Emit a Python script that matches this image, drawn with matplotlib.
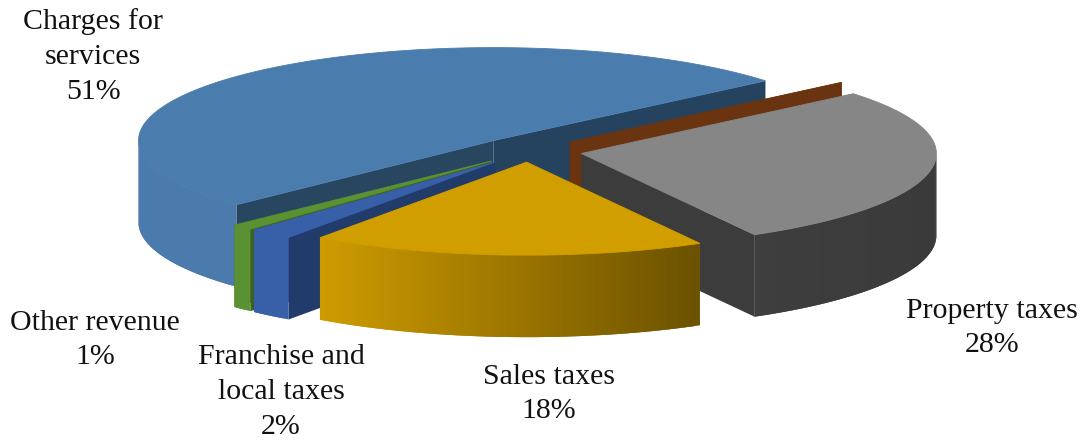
import numpy as np
import matplotlib
matplotlib.use("Agg")
import matplotlib.pyplot as plt
from matplotlib.colors import to_rgb

# revenue shares, clockwise from the start angle
categories = ["", "Property taxes", "Sales taxes", "Franchise and\nlocal taxes", "Other revenue", "Charges for\nservices"]
shares = [0, 28, 18, 2, 1, 51]
top_colors = ["#6b3410", "#868686", "#d19e00", "#3860a8", "#5a9133", "#4a7dae"]
wall_colors = ["#6b3410", "#3c3c3c", "#8a6900", "#213b6b", "#3c6122", "#284660"]
wall_colors_far = ["#6b3410", "#3c3c3c", "#8a6900", "#213b6b", "#3c6122", "#25435f"]
side_left = ["#6b3410", "#3e3e3e", "#cf9c00", "#3860a8", "#5a9133", "#497aab"]
side_right = ["#6b3410", "#3a3a3a", "#6c5200", "#3860a8", "#5a9133", "#4a7bac"]
explode = [0.15, 0.15, 0.12, 0.15, 0.15, 0.15]
label_x = [0, 992, 549, 281, 95, 93]
label_y = [0, 328, 394, 392, 340, 57]

# projection of the pie plane onto the page, in pixels
center_x, center_y = 529, 151
radius_x, radius_y = 355, 93
depth = 82
start_angle = 40

# back slices first so the nearer ones cover them
draw_order = [5, 0, 1, 4, 3, 2]


def project(ang, off_x, off_y, r=1.0):
    a = np.radians(ang)
    return off_x + r * radius_x * np.cos(a), off_y - r * radius_y * np.sin(a)


def mix(c1, c2, t):
    c1, c2 = np.array(to_rgb(c1)), np.array(to_rgb(c2))
    return tuple(c1 + (c2 - c1) * t)


fig = plt.figure(figsize=(10.81, 4.40), dpi=100)
ax = fig.add_axes([0, 0, 1, 1])
ax.set_xlim(0, 1081)
ax.set_ylim(440, 0)
ax.axis("off")

sweeps = np.array(shares) * 3.6
ends = start_angle - np.cumsum(sweeps)
starts = ends + sweeps

for i in draw_order:
    a0, a1 = starts[i], ends[i]
    mid = (a0 + a1) / 2
    ox, oy = project(mid, center_x, center_y, explode[i])
    z = draw_order.index(i) * 3

    # cut faces running from the tip to the rim
    for ang, col in ((a0, wall_colors[i]), (a1, wall_colors_far[i])):
        x, y = project(ang, ox, oy)
        ax.fill([ox, x, x, ox], [oy, y, y + depth, oy + depth], color=col, lw=0, zorder=z)

    # rim, only where it faces the front; each strip overlaps the next to avoid seams
    angs = np.linspace(a0, a1, max(int(abs(a0 - a1)), 2) + 1)
    xs, ys = project(angs, ox, oy)
    for j in range(len(angs) - 1):
        if np.sin(np.radians((angs[j] + angs[j + 1]) / 2)) > 0:
            continue
        k = min(j + 2, len(angs) - 1)
        t = 0.5 if i == 5 else (xs[j] - xs.min()) / max(xs.max() - xs.min(), 1)
        c = mix(side_left[i], side_right[i], t)
        ax.fill([xs[j], xs[j + 1], xs[k], xs[k], xs[j + 1], xs[j]],
                [ys[j], ys[j + 1], ys[k], ys[k] + depth, ys[j + 1] + depth, ys[j] + depth],
                color=c, lw=0, zorder=z + 1)

    # top face, with a hairline so no pale seam shows against the rim
    ax.fill(np.r_[ox, xs], np.r_[oy, ys], color=top_colors[i], lw=0.6, zorder=z + 2)

    if categories[i]:
        ax.text(label_x[i], label_y[i], f"{categories[i]}\n{shares[i]}%", ha="center", va="center",
                family="Liberation Serif", fontsize=21.5, color="#111111", linespacing=1.45, zorder=50)

fig.savefig("out.png", dpi=100)
